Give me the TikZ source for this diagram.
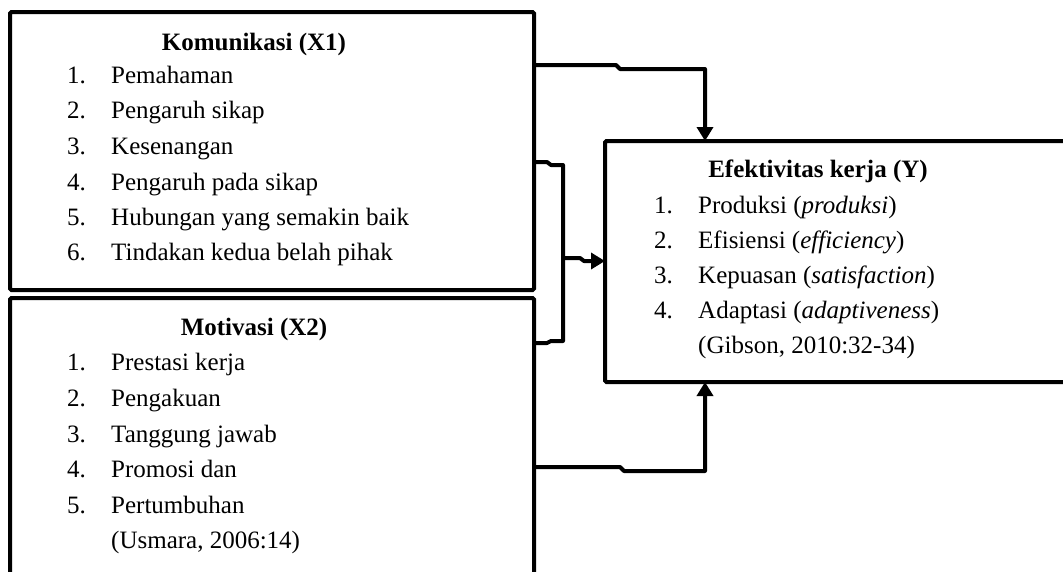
\documentclass[tikz,border=0pt]{standalone}
\usepackage{fontspec}
\setmainfont{Liberation Serif}
\usetikzlibrary{arrows.meta}
\begin{document}
\begin{tikzpicture}[x=1pt,y=-1pt,
  box/.style={draw, line width=4pt, rounded corners=1.5pt, fill=white, inner sep=0pt, outer sep=0pt, anchor=north west},
  conn/.style={line width=4pt, line join=round},
  arr/.style={conn, -{Triangle[length=14pt,width=16pt]}},
  txt/.style={anchor=base west, inner sep=0pt, font=\fontsize{25}{30}\selectfont},
  ttl/.style={anchor=base, inner sep=0pt, font=\fontsize{25}{30}\selectfont\bfseries}]
\useasboundingbox (0,0) rectangle (1063,571);
\clip (0,0) rectangle (1063,571);
% boxes
\node[box, minimum width=524pt, minimum height=278pt] (x1) at (10,12) {};
\node[box, minimum width=524pt, minimum height=300pt] (x2) at (10,298) {};
\node[box, minimum width=500pt, minimum height=241pt] (y) at (605,141) {};
% X1 text
\node[ttl] (t1) at (254,50) {Komunikasi (X1)};
\node[txt] (n11) at (67,83) {1.}; \node[txt] (i11) at (111,83) {Pemahaman};
\node[txt] (n12) at (67,118) {2.}; \node[txt] (i12) at (111,118) {Pengaruh sikap};
\node[txt] (n13) at (67,154) {3.}; \node[txt] (i13) at (111,154) {Kesenangan};
\node[txt] (n14) at (67,190) {4.}; \node[txt] (i14) at (111,190) {Pengaruh pada sikap};
\node[txt] (n15) at (67,225) {5.}; \node[txt] (i15) at (111,225) {Hubungan yang semakin baik};
\node[txt] (n16) at (67,260) {6.}; \node[txt] (i16) at (111,260) {Tindakan kedua belah pihak};
% X2 text
\node[ttl] (t2) at (254,335) {Motivasi (X2)};
\node[txt] (n21) at (67,370) {1.}; \node[txt] (i21) at (111,370) {Prestasi kerja};
\node[txt] (n22) at (67,406) {2.}; \node[txt] (i22) at (111,406) {Pengakuan};
\node[txt] (n23) at (67,442) {3.}; \node[txt] (i23) at (111,442) {Tanggung jawab};
\node[txt] (n24) at (67,477) {4.}; \node[txt] (i24) at (111,477) {Promosi dan};
\node[txt] (n25) at (67,513) {5.}; \node[txt] (i25) at (111,513) {Pertumbuhan};
\node[txt] (s2) at (111,548) {(Usmara, 2006:14)};
% Y text
\node[ttl] (t3) at (818,177) {Efektivitas kerja (Y)};
\node[txt] (n31) at (654,213) {1.}; \node[txt] (i31) at (698,213) {Produksi (\textit{produksi})};
\node[txt] (n32) at (654,248) {2.}; \node[txt] (i32) at (698,248) {Efisiensi (\textit{efficiency})};
\node[txt] (n33) at (654,283) {3.}; \node[txt] (i33) at (698,283) {Kepuasan (\textit{satisfaction})};
\node[txt] (n34) at (654,318) {4.}; \node[txt] (i34) at (698,318) {Adaptasi (\textit{adaptiveness})};
\node[txt] (s3) at (698,353) {(Gibson, 2010:32-34)};
% connectors
\draw[arr] (x1.east |- 0,65) -- (616,65) -- (620,69) -- (705,69) -- (y.north -| 705,0);
\draw[conn] (x1.east |- 0,162) -- (547,162) -- (551,165) -- (563,165) -- (563,341) -- (551,341) -- (547,343) -- (x2.east |- 0,343);
\draw[arr] (563,258) -- (580,258) -- (584,261) -- (y.west |- 0,261);
\draw[arr] (x2.east |- 0,467) -- (620,467) -- (624,471) -- (705,471) -- (y.south -| 705,0);
\end{tikzpicture}
\end{document}
